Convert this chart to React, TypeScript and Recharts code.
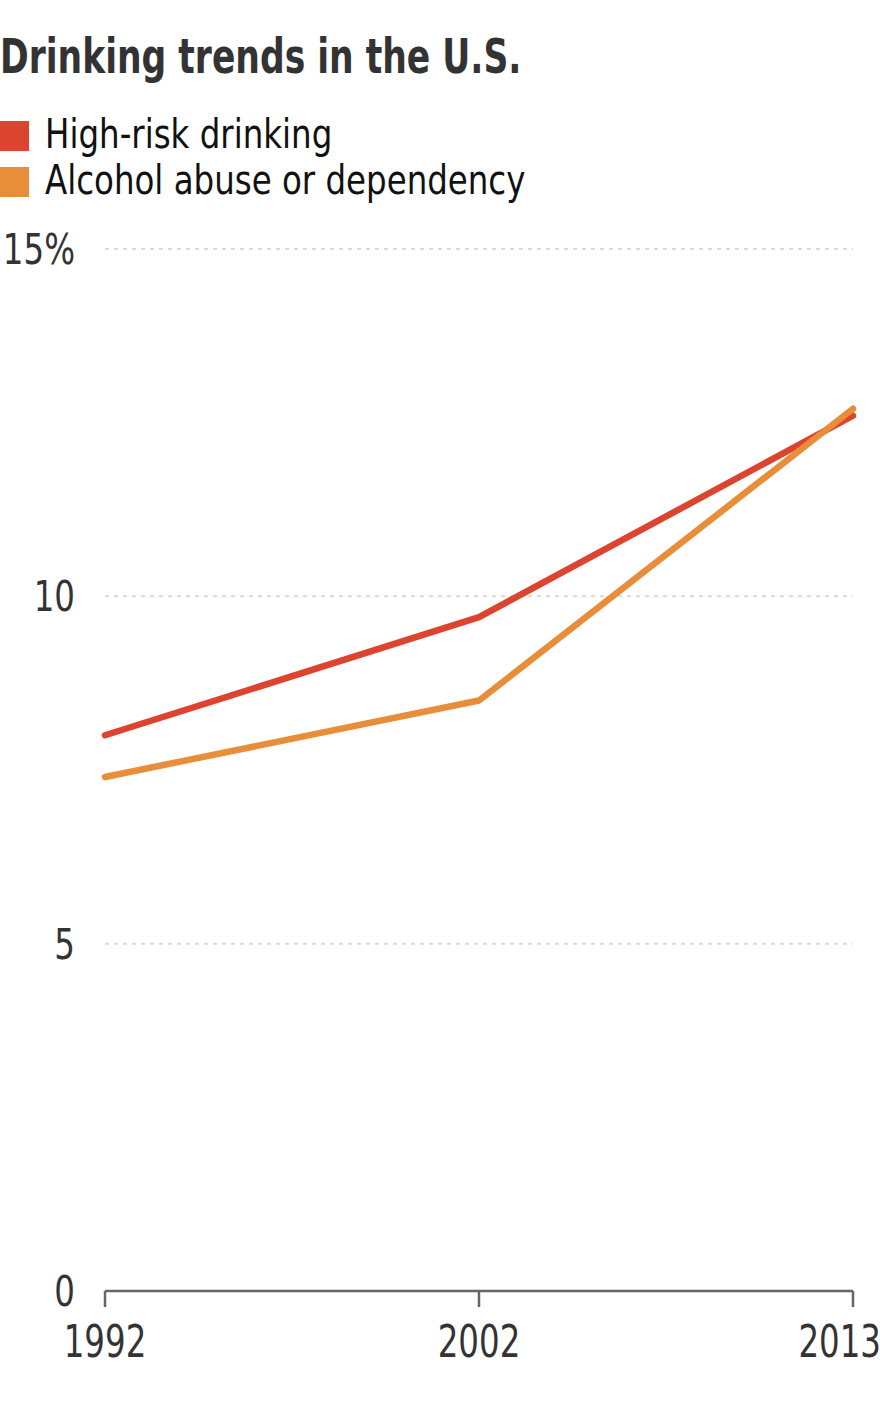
import { LineChart, Line, XAxis, YAxis, CartesianGrid } from 'recharts';

const years = ['1992', '2002', '2013'];
const highRisk = [8.0, 9.7, 12.6];
const abuse = [7.4, 8.5, 12.7];
const yTicks = [0, 5, 10, 15];

const RED = '#dd4430';
const ORANGE = '#e88e3b';
const FONT = '"DejaVu Sans Condensed", "DejaVu Sans", sans-serif';

const chartData = years.map((year, i) => ({
  year,
  highRisk: highRisk[i],
  abuse: abuse[i],
}));

const seriesInfo = [
  { key: 'highRisk', label: 'High-risk drinking', color: RED },
  { key: 'abuse', label: 'Alcohol abuse or dependency', color: ORANGE },
];

// narrow the condensed font a bit more to match the reference's Helvetica Condensed
function XTick(props: any) {
  const { x, y, payload, index } = props;
  // last label sits pulled in toward the edge, like the original
  const isLast = index === years.length - 1;
  return (
    <text
      transform={`translate(${isLast ? x + 28 : x},${y + 50}) scale(0.82,1)`}
      textAnchor={isLast ? 'end' : 'middle'}
      fontSize={44}
      fill="#333"
      fontFamily={FONT}
    >
      {payload.value}
    </text>
  );
}

function YTick(props: any) {
  const { x, y, payload } = props;
  const label = payload.value === 15 ? '15%' : String(payload.value);
  return (
    <text
      transform={`translate(${x},${y + 15}) scale(0.84,1)`}
      textAnchor="end"
      fontSize={43}
      fill="#333"
      fontFamily={FONT}
    >
      {label}
    </text>
  );
}

export default function App() {
  return (
    <div style={{ position: 'absolute', left: 0, top: 0, width: 880, height: 1408, background: '#fff', overflow: 'hidden' }}>
      <div
        style={{
          position: 'absolute',
          left: 0,
          top: 28,
          fontFamily: FONT,
          fontWeight: 700,
          fontSize: 48,
          color: '#333',
          lineHeight: '56px',
          whiteSpace: 'nowrap',
          transform: 'scaleX(0.8)',
          transformOrigin: 'left top',
        }}
      >
        Drinking trends in the U.S.
      </div>
      <div style={{ position: 'absolute', left: 0, top: 111, fontFamily: FONT }}>
        {seriesInfo.map((s) => (
          <div key={s.key} style={{ position: 'relative', height: 46 }}>
            <span
              style={{ position: 'absolute', left: 0, top: 10, width: 29, height: 30, background: s.color }}
            />
            <span
              style={{
                position: 'absolute',
                left: 45,
                top: 0,
                fontSize: 41,
                lineHeight: '46px',
                color: '#111',
                whiteSpace: 'nowrap',
                transform: 'scaleX(0.88)',
                transformOrigin: 'left top',
              }}
            >
              {s.label}
            </span>
          </div>
        ))}
      </div>
      <LineChart
        width={880}
        height={1408}
        data={chartData}
        margin={{ top: 249, right: 27, bottom: 87, left: 0 }}
        style={{ position: 'absolute', left: 0, top: 0 }}
      >
        <CartesianGrid horizontal vertical={false} stroke="#d9d9d9" strokeWidth={2} strokeDasharray="4 5" />
        <XAxis
          dataKey="year"
          height={30}
          tick={<XTick />}
          tickSize={16}
          tickMargin={0}
          axisLine={{ stroke: '#666', strokeWidth: 2.5 }}
          tickLine={{ stroke: '#666', strokeWidth: 2.5 }}
          interval={0}
        />
        <YAxis
          width={105}
          domain={[0, 15]}
          ticks={yTicks}
          tick={<YTick />}
          tickSize={0}
          tickMargin={30}
          axisLine={false}
          tickLine={false}
        />
        <Line
          type="linear"
          dataKey="highRisk"
          name="High-risk drinking"
          stroke={RED}
          strokeWidth={6.5}
          strokeLinecap="round"
          strokeLinejoin="round"
          dot={false}
          isAnimationActive={false}
        />
        <Line
          type="linear"
          dataKey="abuse"
          name="Alcohol abuse or dependency"
          stroke={ORANGE}
          strokeWidth={6.5}
          strokeLinecap="round"
          strokeLinejoin="round"
          dot={false}
          isAnimationActive={false}
        />
      </LineChart>
    </div>
  );
}
